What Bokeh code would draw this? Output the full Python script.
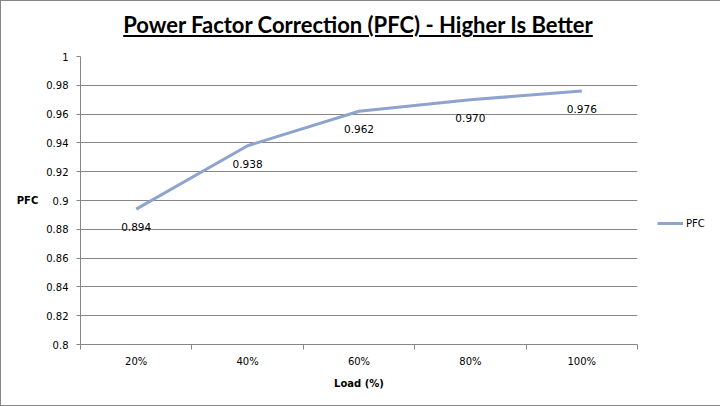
from bokeh.plotting import figure
from bokeh.layouts import column
from bokeh.models import (Range1d, FixedTicker, CustomJSTickFormatter, Legend, LegendItem,
                          ColumnDataSource, Div)
from bokeh.core.properties import value
from bokeh.embed import file_html
from bokeh.resources import INLINE

loads = ["20%", "40%", "60%", "80%", "100%"]
pfc = [0.894, 0.938, 0.962, 0.970, 0.976]
y_ticks = [0.80, 0.82, 0.84, 0.86, 0.88, 0.90, 0.92, 0.94, 0.96, 0.98, 1.00]
title_text = "Power Factor Correction (PFC) - Higher Is Better"
x_title = "Load (%)"
y_title = "PFC"
series_name = "PFC"

GRAY = "#868686"
LINE = "#8EA3CD"
FONT = "DejaVu Sans"

xs = [i + 0.5 for i in range(len(loads))]
src = ColumnDataSource(dict(x=xs, y=pfc, lab=[f"{v:.3f}" for v in pfc]))

title = Div(text=(f'<div style="font-family:Lato;font-weight:bold;font-size:22px;line-height:22px;'
                  f'padding-top:13px;padding-left:12px;text-decoration:underline;'
                  f'text-decoration-thickness:2px;text-underline-offset:2px;color:#000;'
                  f'white-space:nowrap;">{title_text}</div>'),
            width=702, height=40, margin=0,
            styles={"text-align": "center", "display": "flex", "justify-content": "center"})

p = figure(frame_width=557, frame_height=288, output_backend="svg", toolbar_location=None,
           x_range=Range1d(0, len(loads)), y_range=Range1d(y_ticks[0], y_ticks[-1]),
           min_border_left=79, min_border_right=0, min_border_top=15, min_border_bottom=61)
p.outline_line_color = None
p.background_fill_color = "white"
p.border_fill_color = "white"

# x axis
p.xaxis.ticker = FixedTicker(ticks=xs, minor_ticks=list(range(len(loads) + 1)))
p.xaxis.major_label_overrides = {x: l for x, l in zip(xs, loads)}
p.xaxis.major_tick_out = 0
p.xaxis.major_tick_in = 0
p.xaxis.minor_tick_out = 5
p.xaxis.minor_tick_in = 0
p.xaxis.minor_tick_line_color = GRAY
p.xaxis.axis_line_color = GRAY
p.xaxis.major_label_standoff = 6
p.xaxis.major_label_text_font = FONT
p.xaxis.major_label_text_font_size = "10px"
p.xaxis.major_label_text_color = "#000000"
p.xaxis.axis_label = x_title
p.xaxis.axis_label_standoff = 8
p.xaxis.axis_label_text_font = FONT
p.xaxis.axis_label_text_font_style = "bold"
p.xaxis.axis_label_text_font_size = "10px"
p.xaxis.axis_label_text_color = "#000000"
p.xgrid.visible = False

# y axis
p.yaxis.ticker = FixedTicker(ticks=y_ticks)
p.yaxis.formatter = CustomJSTickFormatter(code="""
let s = tick.toFixed(2);
s = s.replace(/0+$/, '').replace(/\\.$/, '');
return s;
""")
p.yaxis.major_tick_out = 4
p.yaxis.major_tick_in = 0
p.yaxis.minor_tick_line_color = None
p.yaxis.major_tick_line_color = GRAY
p.yaxis.axis_line_color = GRAY
p.yaxis.major_label_standoff = 8
p.yaxis.major_label_text_font = FONT
p.yaxis.major_label_text_font_size = "10px"
p.yaxis.major_label_text_color = "#000000"
p.yaxis.axis_label = y_title
p.yaxis.axis_label_orientation = "horizontal"
p.yaxis.axis_label_standoff = 5
p.yaxis.axis_label_text_font = FONT
p.yaxis.axis_label_text_font_style = "bold"
p.yaxis.axis_label_text_font_size = "10px"
p.yaxis.axis_label_text_color = "#000000"
p.ygrid.ticker = FixedTicker(ticks=y_ticks)
p.ygrid.grid_line_color = GRAY
p.ygrid.grid_line_width = 1

r = p.line("x", "y", source=src, line_color=LINE, line_width=3)
p.text("x", "y", text="lab", source=src, text_align="center", text_baseline="middle",
       y_offset=18, text_font=value(FONT), text_font_size="10.5px", text_color="#000000")

legend = Legend(items=[LegendItem(label=series_name, renderers=[r])],
                location=(20, 114), padding=0, margin=0, glyph_width=26, glyph_height=14,
                label_standoff=3, border_line_color=None, background_fill_alpha=0,
                label_text_font=FONT, label_text_font_size="10px", label_text_color="#000000")
p.add_layout(legend, "right")

layout = column(title, p, spacing=0,
                styles={"border": "1px solid #868686", "background-color": "white"})

open("out.html", "w").write(file_html(layout, INLINE))
